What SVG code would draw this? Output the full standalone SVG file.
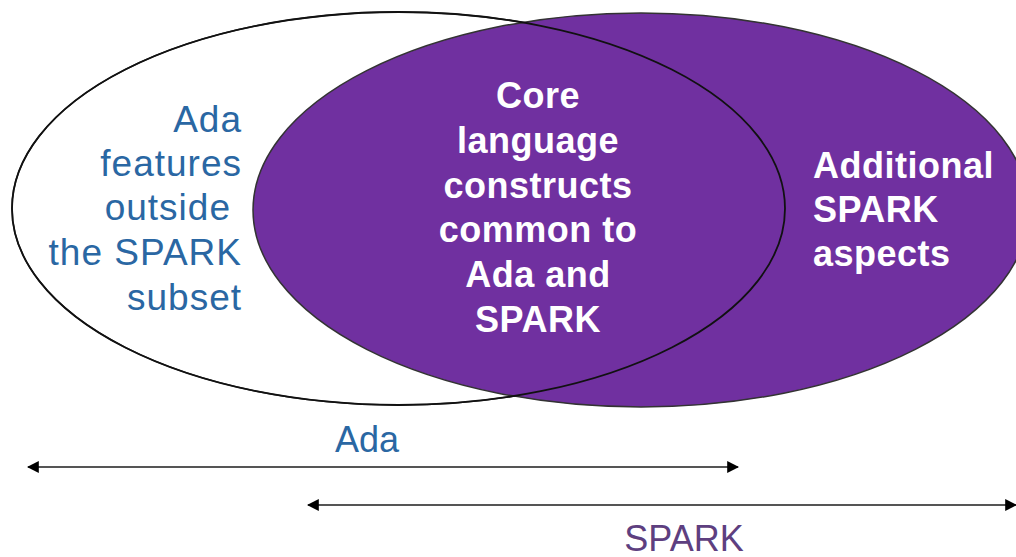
<svg xmlns="http://www.w3.org/2000/svg" width="1016" height="557" viewBox="0 0 1016 557">
<style>
.blue{font-family:"Liberation Sans",Arial,sans-serif;font-size:37px;fill:#2A67A3;letter-spacing:1px}
.white{font-family:"Liberation Sans",Arial,sans-serif;font-size:36px;font-weight:bold;fill:#FFFFFF;letter-spacing:0.5px}
.lbl{font-family:"Liberation Sans",Arial,sans-serif;font-size:36px}
</style>
<defs>
<marker id="ah" viewBox="0 0 10 10" refX="9" refY="5" markerWidth="12" markerHeight="12" markerUnits="userSpaceOnUse" orient="auto-start-reverse">
<path d="M0,0 L10,5 L0,10 z" fill="#000"/>
</marker>
</defs>
<rect width="1016" height="557" fill="#fff"/>
<g id="ada-set">
<ellipse cx="398.5" cy="208.5" rx="386.5" ry="196.5" fill="#fff" stroke="#222" stroke-width="1.5"/>
</g>
<g id="spark-set">
<ellipse cx="641" cy="210" rx="388" ry="197" fill="#7030A0" stroke="#333" stroke-width="1.5"/>
</g>
<g id="ada-outline">
<ellipse cx="398.5" cy="208.5" rx="386.5" ry="196.5" fill="none" stroke="#111" stroke-width="1.8"/>
</g>
<g id="ada-only-text" class="blue" text-anchor="end">
<text x="242" y="132">Ada</text>
<text x="242" y="176">features</text>
<text x="231" y="220">outside</text>
<text x="242" y="265">the SPARK</text>
<text x="242" y="310">subset</text>
</g>
<g id="core-text" class="white" text-anchor="middle">
<text x="538" y="108">Core</text>
<text x="538" y="153">language</text>
<text x="538" y="198">constructs</text>
<text x="538" y="242">common to</text>
<text x="538" y="287">Ada and</text>
<text x="538" y="332">SPARK</text>
</g>
<g id="spark-only-text" class="white">
<text x="813" y="178">Additional</text>
<text x="813" y="222">SPARK</text>
<text x="813" y="266">aspects</text>
</g>
<g id="connectors" stroke="#555" stroke-width="2" fill="none">
<line x1="28" y1="467" x2="738" y2="467" marker-start="url(#ah)" marker-end="url(#ah)"/>
<line x1="308" y1="505" x2="1016" y2="505" marker-start="url(#ah)" marker-end="url(#ah)"/>
</g>
<g id="labels">
<text class="lbl" x="367" y="452" text-anchor="middle" fill="#2A67A3">Ada</text>
<text class="lbl" x="684" y="551" text-anchor="middle" fill="#5E3F80">SPARK</text>
</g>
</svg>
